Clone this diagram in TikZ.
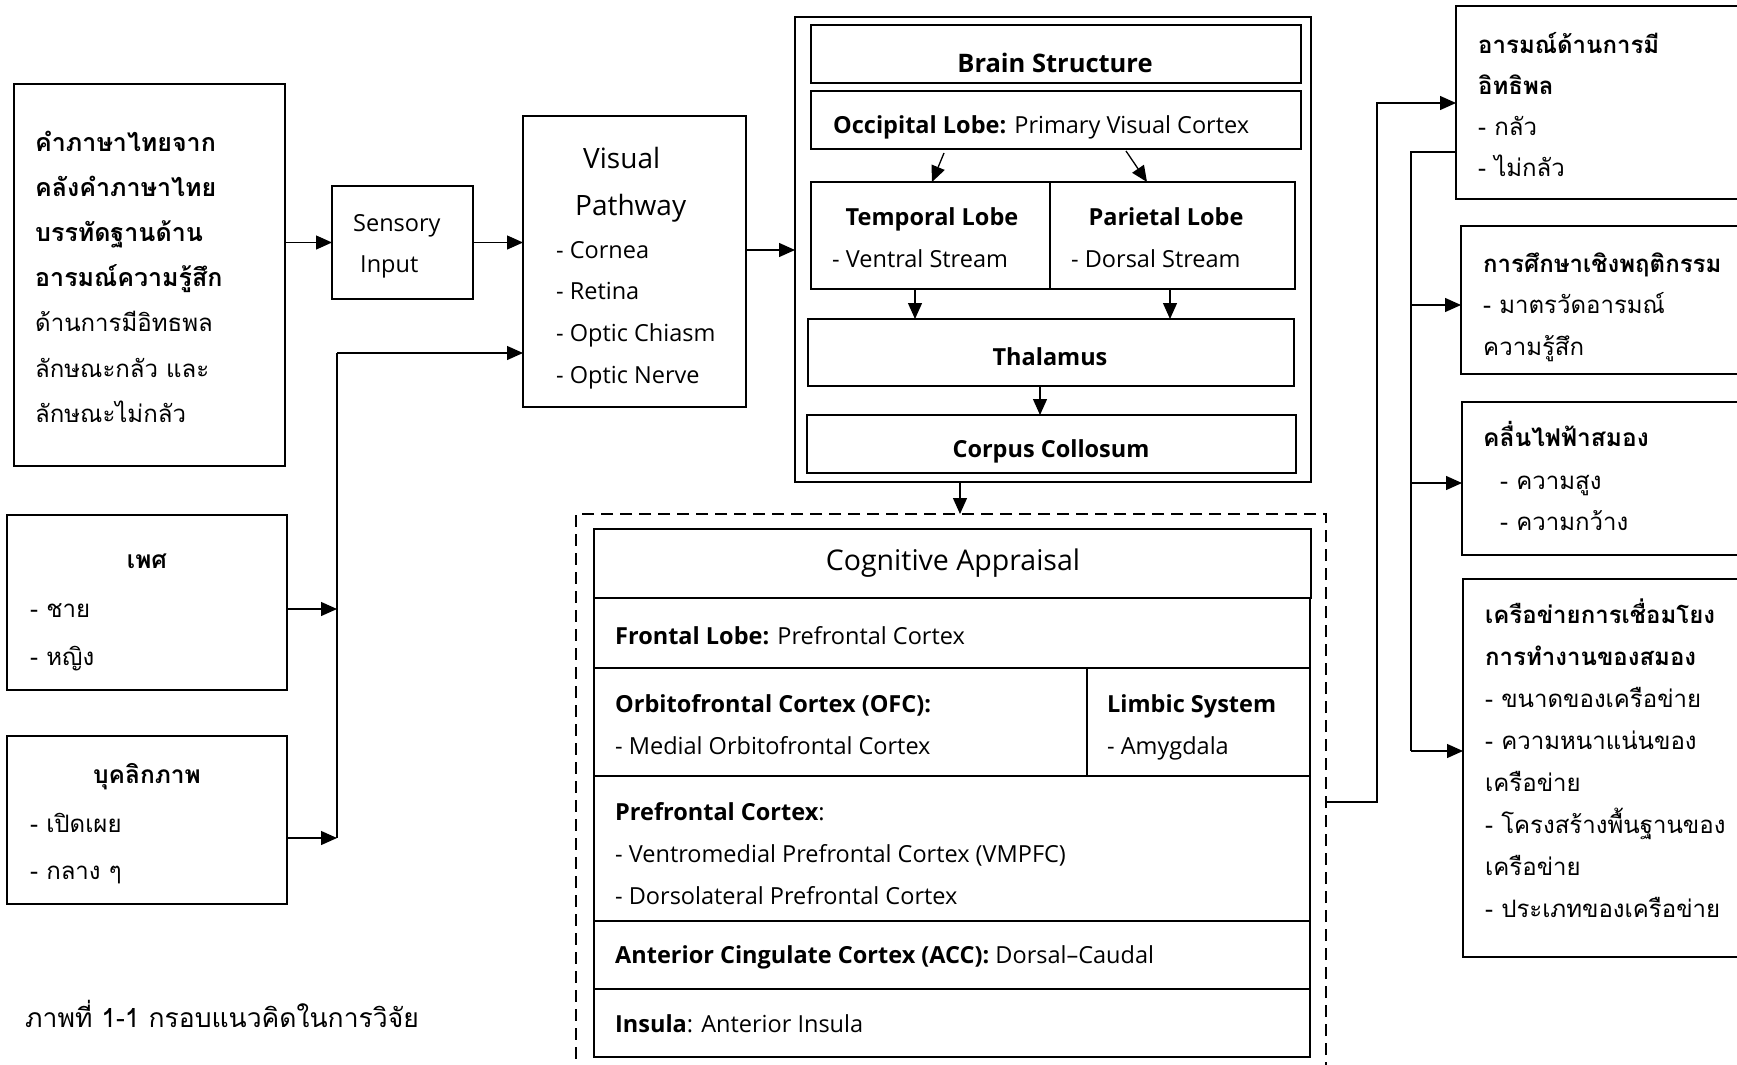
\documentclass[tikz,border=0pt]{standalone}
\usepackage{fontspec}
\setmainfont{Open Sans}
\newfontfamily\thai[Script=Thai]{Loma}
\usetikzlibrary{arrows.meta,calc}

% a rectangle given by its top-left and bottom-right corners
\newcommand\bx[6]{\node[box,#6,minimum width={(#4-#2)*1pt},minimum height={(#5-#3)*1pt}] (#1) at (#2,#3) {};}
% several lines of text, one baseline after another
\newcommand\tl[6]{\foreach \ltxt [count=\li] in {#6}{\node[txt,#5] (#1-\li) at (#2,{#3+(\li-1)*#4}) {\ltxt};}}

\begin{document}
\begin{tikzpicture}[x=1pt,y=-1pt,
  box/.style={draw,line width=2pt,anchor=north west,inner sep=0pt,outer sep=0pt},
  thick box/.style={line width=2.6pt},
  dash box/.style={line width=2pt,dash pattern=on 12pt off 7pt},
  txt/.style={anchor=base west,inner sep=0pt},
  ctxt/.style={anchor=base,inner sep=0pt},
  th/.style={font=\thai\fontsize{24}{28}\selectfont},
  thb/.style={font=\thai\bfseries\fontsize{24.5}{28}\selectfont},
  la/.style={font=\fontsize{23.5}{26}\selectfont},
  lab/.style={font=\bfseries\fontsize{23.5}{26}\selectfont},
  arr/.style={line width=1.3pt,-{Triangle[length=16pt,width=14pt]}},
  wire/.style={line width=1.3pt}]
\fill[white] (0,0) rectangle (1737,1065);
\useasboundingbox (0,0) rectangle (1737,1065);
\clip (0,0) rectangle (1737,1065);

% ---- inputs on the left
\bx{src}{14}{84}{285}{466}{thick box}
\tl{srct}{35}{151}{45.2}{th}{{\bfseries\fontsize{25}{28}\selectfont คำภาษาไทยจาก},{\bfseries\fontsize{25}{28}\selectfont คลังคำภาษาไทย},{\bfseries\fontsize{25}{28}\selectfont บรรทัดฐานด้าน},{\bfseries\fontsize{25}{28}\selectfont อารมณ์ความรู้สึก},ด้านการมีอิทธพล,ลักษณะกลัว และ,ลักษณะไม่กลัว}

\bx{gen}{7}{515}{287}{690}{thick box}
\node[ctxt,thb] (gent) at (147,568) {เพศ};
\tl{genl}{30}{617}{48}{th}{- ชาย,- หญิง}

\bx{per}{7}{736}{287}{904}{thick box}
\node[ctxt,thb] (pert) at (147,783) {บุคลิกภาพ};
\tl{perl}{30}{832}{47}{th}{- เปิดเผย,- กลาง ๆ}

\bx{sens}{332}{186}{473}{299}{}
\tl{senst}{353}{231}{41}{la}{Sensory,\hspace*{7pt}Input}

\bx{vis}{523}{116}{746}{407}{}
\node[txt,font=\fontsize{28}{30}\selectfont] (vist1) at (583,168) {Visual};
\node[txt,font=\fontsize{28}{30}\selectfont] (vist2) at (575,215) {Pathway};
\tl{visl}{556}{258}{41.7}{la}{- Cornea,- Retina,- Optic Chiasm,- Optic Nerve}

% ---- brain structure
\bx{brain}{795}{17}{1311}{482}{thick box}
\bx{bs}{811}{25}{1301}{83}{}
\node[ctxt,font=\bfseries\fontsize{25.5}{28}\selectfont] (bst) at (1055,73) {Brain Structure};
\bx{occ}{811}{91}{1301}{149}{}
\node[txt,la] (occt) at (833,133) {\textbf{Occipital Lobe:} Primary Visual Cortex};
\bx{temp}{811}{182}{1050}{289}{}
\bx{par}{1050}{182}{1295}{289}{}
\node[ctxt,lab] (tempt) at (932,225) {Temporal Lobe};
\node[txt,la] (templ) at (832,267) {- Ventral Stream};
\node[ctxt,lab] (part) at (1166,225) {Parietal Lobe};
\node[txt,la] (parl) at (1071,267) {- Dorsal Stream};
\bx{thal}{808}{319}{1294}{386}{}
\node[ctxt,lab] (thalt) at (1050,365) {Thalamus};
\bx{corp}{807}{415}{1296}{473}{}
\node[ctxt,lab] (corpt) at (1051,457) {Corpus Collosum};

\draw[arr] ($(occ.south west)+(133,4)$) -- ($(temp.north west)+(121,0)$);
\draw[arr] ($(occ.south west)+(315,2)$) -- ($(par.north west)+(97,0)$);
\draw[arr] ($(temp.south west)+(104,0)$) -- ($(thal.north west)+(107,0)$);
\draw[arr] ($(par.south west)+(120,0)$) -- ($(thal.north west)+(362,0)$);
\draw[arr] ($(thal.south west)+(232,0)$) -- ($(corp.north west)+(233,0)$);

% ---- cognitive appraisal
\node[box,dash box,minimum width=750pt,minimum height=570pt] (cog) at (576,514) {};
\bx{ca}{594}{529}{1311}{598}{}
\node[ctxt,font=\fontsize{28.5}{30}\selectfont] (cat) at (953,570) {Cognitive Appraisal};
\bx{fro}{594}{598}{1310}{668}{}
\node[txt,la] (frot) at (615,644) {\textbf{Frontal Lobe:} Prefrontal Cortex};
\bx{ofc}{594}{668}{1087}{776}{}
\bx{lim}{1087}{668}{1310}{776}{}
\tl{ofct}{615}{712}{42}{la}{\textbf{Orbitofrontal Cortex (OFC):},- Medial Orbitofrontal Cortex}
\tl{limt}{1107}{712}{42}{la}{\textbf{Limbic System},- Amygdala}
\bx{pfc}{594}{776}{1310}{921}{}
\tl{pfct}{615}{820}{42}{la}{\textbf{Prefrontal Cortex}:,- Ventromedial Prefrontal Cortex (VMPFC),- Dorsolateral Prefrontal Cortex}
\bx{acc}{594}{921}{1310}{989}{}
\node[txt,la] (acct) at (615,963) {\textbf{Anterior Cingulate Cortex (ACC):} Dorsal–Caudal};
\bx{ins}{594}{989}{1310}{1057}{}
\node[txt,la] (inst) at (615,1032) {\textbf{Insula}: Anterior Insula};

% ---- outcomes on the right
\bx{o1}{1456}{6}{1745}{199}{thick box}
\tl{o1t}{1478}{53}{41.3}{th}{{\bfseries อารมณ์ด้านการมี},{\bfseries อิทธิพล},- กลัว,- ไม่กลัว}
\bx{o2}{1461}{226}{1745}{374}{thick box}
\tl{o2t}{1483}{272}{41.5}{th}{{\bfseries การศึกษาเชิงพฤติกรรม},- มาตรวัดอารมณ์,ความรู้สึก}
\bx{o3}{1462}{402}{1745}{555}{thick box}
\node[txt,thb] (o3t) at (1483,446) {คลื่นไฟฟ้าสมอง};
\tl{o3l}{1500}{489}{41}{th}{- ความสูง,- ความกว้าง}
\bx{o4}{1463}{579}{1745}{957}{thick box}
\tl{o4t}{1485}{623}{42.1}{th}{{\bfseries เครือข่ายการเชื่อมโยง},{\bfseries การทำงานของสมอง},- ขนาดของเครือข่าย,- ความหนาแน่นของ,เครือข่าย,- โครงสร้างพื้นฐานของ,เครือข่าย,- ประเภทของเครือข่าย}

% ---- caption
\node[txt,font=\thai\fontsize{26.5}{30}\selectfont] (cap) at (25,1027) {ภาพที่ 1-1 กรอบแนวคิดในการวิจัย};

% ---- connectors
\draw[arr] (src.east |- sens.west) -- (sens.west);
\draw[arr] (sens.east) -- (sens.east -| vis.west);
\coordinate (j1) at (337,609);
\coordinate (j2) at (337,838);
\coordinate (bus) at (337,353);
\draw[arr] (gen.east |- j1) -- (j1);
\draw[arr] (per.east |- j2) -- (j2);
\draw[wire] (j2) -- (bus);
\draw[arr] (bus) -- (bus -| vis.west);
\draw[arr] (vis.east |- 0,250) -- (brain.west |- 0,250);
\draw[arr] ($(brain.south west)+(165,0)$) -- ($(cog.north west)+(384,0)$);

\coordinate (ra) at (1377,103);
\draw[arr] ($(cog.north east)+(0,288)$) -| (ra) -- (ra -| o1.west);
\coordinate (rb) at (1411,152);
\draw[wire] (o1.west |- rb) -- (rb) -- (1411,751);
\draw[arr] (rb |- 0,305) -- (o2.west |- 0,305);
\draw[arr] (rb |- 0,483) -- (o3.west |- 0,483);
\draw[arr] (rb |- 0,751) -- (o4.west |- 0,751);
\end{tikzpicture}
\end{document}
